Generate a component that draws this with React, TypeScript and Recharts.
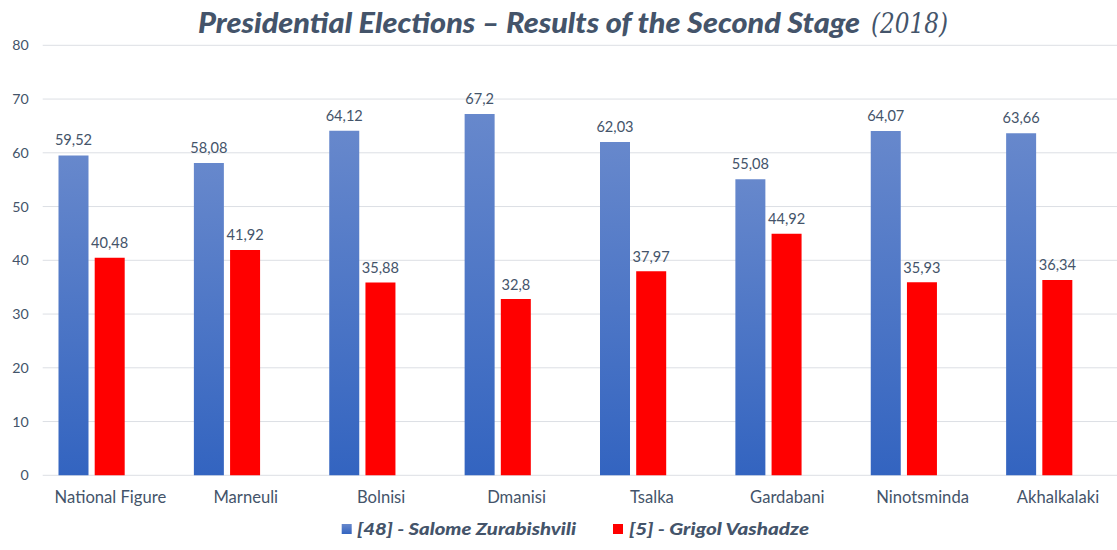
import { Bar, BarChart, CartesianGrid, LabelList, XAxis, YAxis } from "recharts";

const districts = [
  "National Figure", "Marneuli", "Bolnisi", "Dmanisi",
  "Tsalka", "Gardabani", "Ninotsminda", "Akhalkalaki",
];
const zurabishvili = [59.52, 58.08, 64.12, 67.2, 62.03, 55.08, 64.07, 63.66];
const vashadze = [40.48, 41.92, 35.88, 32.8, 37.97, 44.92, 35.93, 36.34];
// the sheet has an empty third column, it still takes a slot in every group
const emptyColumn = [null, null, null, null, null, null, null, null];
const yTicks = [0, 10, 20, 30, 40, 50, 60, 70, 80];
const legendNames = ["[48] - Salome Zurabishvili", "[5] - Grigol Vashadze"];

const TEXT = "#44546a";
const FONT = "Lato, 'Noto Sans', sans-serif";

const data = districts.map((name, i) => ({
  name,
  zurabishvili: zurabishvili[i],
  vashadze: vashadze[i],
  empty: emptyColumn[i],
}));

const fmt = (v: unknown) => (v == null ? "" : String(v).replace(".", ","));

export default function App() {
  return (
    <div style={{ position: "absolute", left: 0, top: 0, width: 1117, height: 550, overflow: "hidden", background: "#fff" }}>
      <BarChart
        width={1140}
        height={550}
        data={data}
        barGap={6.2}
        barCategoryGap={15.8}
        margin={{ top: 45.3, right: 14.3, left: 0, bottom: 44.7 }}
      >
        <defs>
          <linearGradient id="blueFill" x1="0" y1="0" x2="0" y2="1">
            <stop offset="0%" stopColor="#6788cc" />
            <stop offset="100%" stopColor="#3364c0" />
          </linearGradient>
        </defs>
        <CartesianGrid vertical={false} stroke="#dcdfe4" />
        <XAxis
          dataKey="name"
          axisLine={false}
          tickLine={false}
          interval={0}
          height={30}
          tickMargin={9.5}
          tick={{ fill: TEXT, fontSize: 16.6, fontFamily: FONT }}
        />
        <YAxis
          width={42.7}
          domain={[0, 80]}
          ticks={yTicks}
          axisLine={false}
          tickLine={false}
          tickMargin={8}
          tick={{ fill: TEXT, fontSize: 14.2, fontFamily: FONT }}
        />
        <Bar dataKey="zurabishvili" fill="url(#blueFill)" isAnimationActive={false}>
          <LabelList dataKey="zurabishvili" position="top" offset={10} formatter={fmt}
            style={{ fill: TEXT, fontSize: 14.6, fontFamily: FONT }} />
        </Bar>
        <Bar dataKey="vashadze" fill="#ff0000" isAnimationActive={false}>
          <LabelList dataKey="vashadze" position="top" offset={9.5} formatter={fmt}
            style={{ fill: TEXT, fontSize: 14.6, fontFamily: FONT }} />
        </Bar>
        <Bar dataKey="empty" fill="#a5a5a5" isAnimationActive={false} />
      </BarChart>

      <svg width={1117} height={550} style={{ position: "absolute", left: 0, top: 0, pointerEvents: "none" }}>
        <defs>
          <linearGradient id="blueKey" x1="0" y1="0" x2="0" y2="1">
            <stop offset="0%" stopColor="#6788cc" />
            <stop offset="100%" stopColor="#3364c0" />
          </linearGradient>
        </defs>
        <text x={198} y={33} fill={TEXT} fontFamily={FONT} fontSize={29} fontWeight={900} fontStyle="italic"
          textLength={662} lengthAdjust="spacingAndGlyphs">
          Presidential Elections – Results of the Second Stage
        </text>
        <text x={871} y={33} fill={TEXT} fontFamily="'DejaVu Serif', serif" fontSize={28} fontStyle="italic"
          textLength={77} lengthAdjust="spacingAndGlyphs">
          (2018)
        </text>

        <rect x={341.7} y={524} width={10} height={10} fill="url(#blueKey)" />
        <text x={357} y={535} fill={TEXT} fontFamily={FONT} fontSize={17.5} fontWeight={900} fontStyle="italic"
          textLength={219} lengthAdjust="spacingAndGlyphs">
          {legendNames[0]}
        </text>
        <rect x={613} y={524} width={10} height={10} fill="#ff0000" />
        <text x={629} y={535} fill={TEXT} fontFamily={FONT} fontSize={17.5} fontWeight={900} fontStyle="italic"
          textLength={180} lengthAdjust="spacingAndGlyphs">
          {legendNames[1]}
        </text>
      </svg>
    </div>
  );
}
